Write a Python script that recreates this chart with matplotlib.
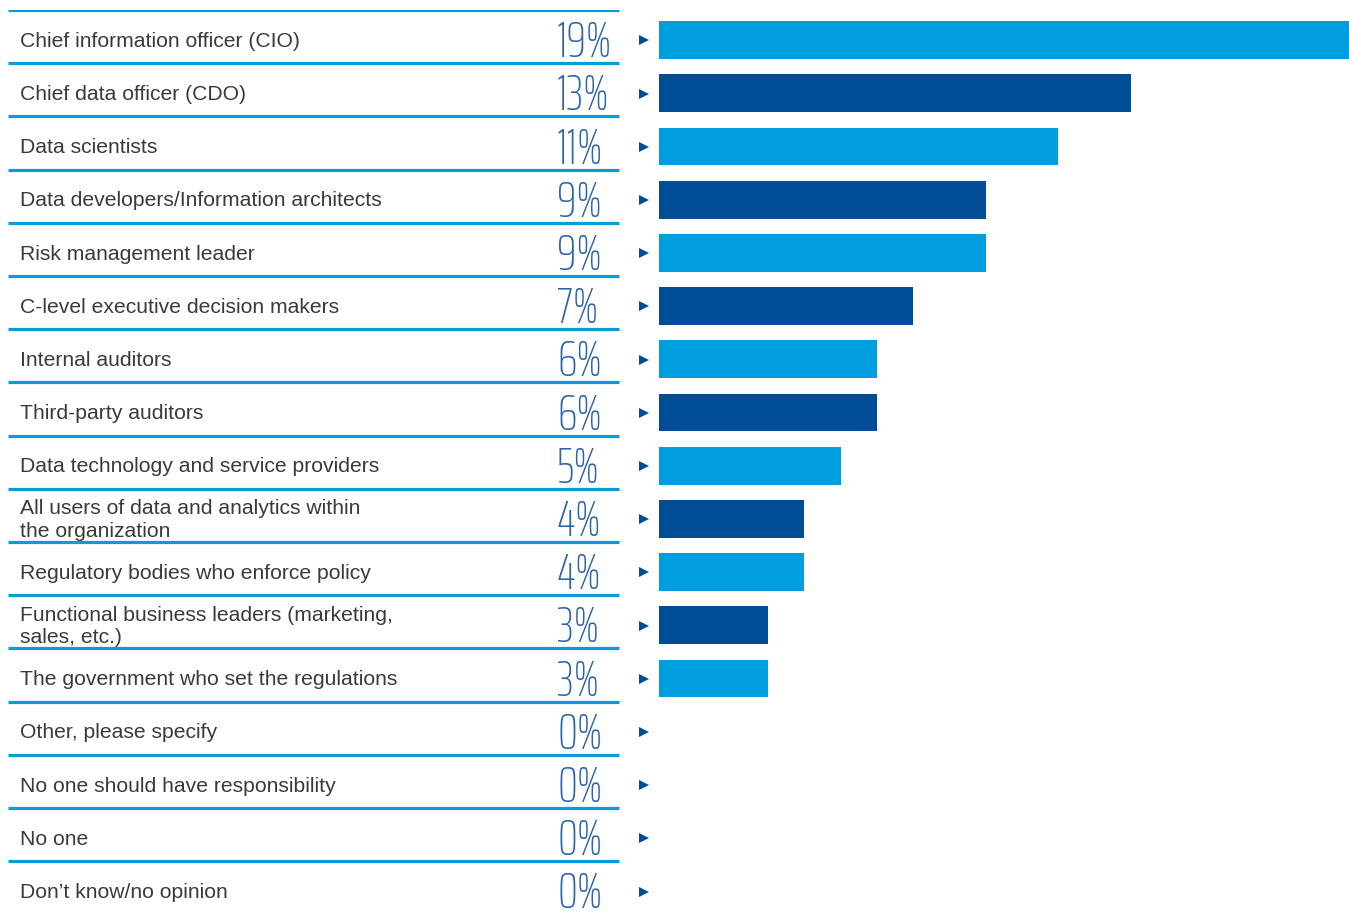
import matplotlib.pyplot as plt
from matplotlib import font_manager

labels = [
    "Chief information officer (CIO)",
    "Chief data officer (CDO)",
    "Data scientists",
    "Data developers/Information architects",
    "Risk management leader",
    "C-level executive decision makers",
    "Internal auditors",
    "Third-party auditors",
    "Data technology and service providers",
    "All users of data and analytics within\nthe organization",
    "Regulatory bodies who enforce policy",
    "Functional business leaders (marketing,\nsales, etc.)",
    "The government who set the regulations",
    "Other, please specify",
    "No one should have responsibility",
    "No one",
    "Don\u2019t know/no opinion",
]
values = [19, 13, 11, 9, 9, 7, 6, 6, 5, 4, 4, 3, 3, 0, 0, 0, 0]

light = "#009EDE"
dark = "#004C97"
rule = "#0A9BDB"
pct_col = "#2B63AC"


def wnum(w):
    return w if isinstance(w, (int, float)) else font_manager.weight_dict.get(w, 400)


# thin condensed face for the big percentages
pct_prop = font_manager.FontProperties(family="DejaVu Sans", weight="light")
for cand in ["Saira ExtraCondensed", "Antonio", "Sofia Sans Extra Condensed", "Big Shoulders Text"]:
    thin = [f for f in font_manager.fontManager.ttflist
            if f.name == cand and wnum(f.weight) <= 250 and f.style == "normal"]
    if thin:
        thin.sort(key=lambda f: abs(wnum(f.weight) - 200))
        pct_prop = font_manager.FontProperties(fname=thin[0].fname)
        break

W, H = 1349, 912
fig = plt.figure(figsize=(W / 100, H / 100), dpi=100)
n = len(labels)
row_h = 53.2
top_px = 11
bot = 1 - (top_px + n * row_h) / H
hgt = n * row_h / H

# left table
axl = fig.add_axes([0, bot, 659 / W, hgt])
axl.set_xlim(0, 659)
axl.set_ylim(n - 0.5, -0.5)
axl.axis("off")

# bars
axr = fig.add_axes([659 / W, bot, (W - 659) / W, hgt], sharey=axl)
axr.set_xlim(0, 19)
axr.axis("off")

for i, (lab, v) in enumerate(zip(labels, values)):
    axl.plot([8, 619], [i - 0.5, i - 0.5], color=rule, lw=2.3, solid_capstyle="butt")
    axl.text(20, i + 0.07, lab, fontsize=15.2, family="Liberation Sans", color="#3a3a3a",
             va="center", ha="left", linespacing=1.25)
    t = axl.text(557, i + 0.37, f"{v}%", color=pct_col, va="baseline", ha="left",
                 fontproperties=pct_prop)
    t.set_fontsize(36)
    axl.plot(644, i + 0.07, marker=">", color=dark, markersize=7, markeredgewidth=0)

colors = [light if i % 2 == 0 else dark for i in range(n)]
axr.barh(range(n), values, height=0.71, color=colors, left=0)
for b in axr.patches:
    b.set_y(b.get_y() + 0.065)

fig.savefig("out.png", dpi=100)
